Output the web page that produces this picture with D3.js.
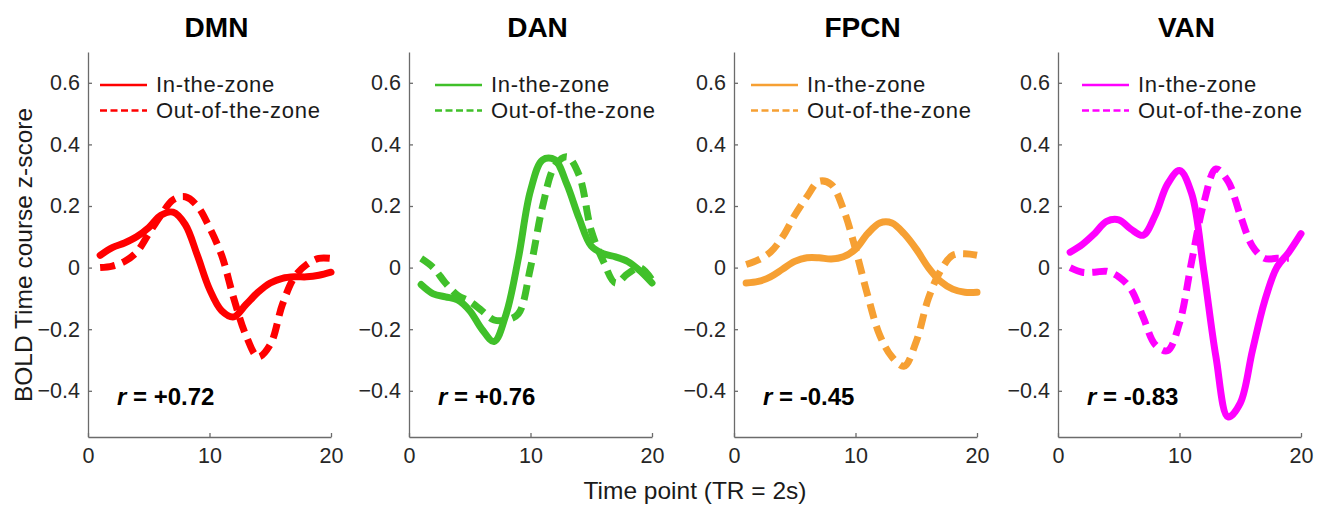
<!DOCTYPE html>
<html>
<head>
<meta charset="utf-8">
<script src="https://cdn.jsdelivr.net/npm/d3@7"></script>
<style>
  body { margin: 0; background: #fff; }
  text { font-family: "Liberation Sans", Arial, sans-serif; }
</style>
</head>
<body>
<svg id="chart" width="1321" height="505"></svg>
<script>
// networks shown, one panel each
const networks = ['DMN', 'DAN', 'FPCN', 'VAN'];
const colors = ['#ff0000', '#40c02a', '#f6a033', '#ff00ff'];
const rLabels = ['+0.72', '+0.76', '-0.45', '-0.83'];

const seriesNames = ['In-the-zone', 'Out-of-the-zone'];

// time points (TR)
const timeIn = d3.range(1, 21);

// z-scores
const dmnIn  = [0.04, 0.065, 0.08, 0.10, 0.13, 0.17, 0.18, 0.14, 0.04, -0.07, -0.14, -0.16, -0.12, -0.08, -0.05, -0.035, -0.03, -0.03, -0.025, -0.015];
const dmnOut = [0.0, 0.005, 0.02, 0.05, 0.11, 0.17, 0.22, 0.23, 0.20, 0.13, 0.04, -0.10, -0.22, -0.29, -0.25, -0.12, -0.03, 0.01, 0.03, 0.03];

const danIn  = [-0.055, -0.085, -0.095, -0.105, -0.14, -0.20, -0.24, -0.15, 0.03, 0.25, 0.35, 0.35, 0.27, 0.16, 0.07, 0.045, 0.035, 0.02, -0.01, -0.05];
const danOut = [0.03, 0.0, -0.05, -0.09, -0.11, -0.14, -0.17, -0.17, -0.15, 0.0, 0.20, 0.33, 0.36, 0.30, 0.12, 0.02, -0.05, -0.02, 0.0, -0.04];

const fpcnIn  = [-0.05, -0.045, -0.03, -0.005, 0.02, 0.032, 0.032, 0.028, 0.035, 0.06, 0.11, 0.145, 0.145, 0.11, 0.06, 0.0, -0.045, -0.07, -0.08, -0.08];
const fpcnOut = [0.01, 0.025, 0.05, 0.10, 0.17, 0.23, 0.28, 0.27, 0.19, 0.06, -0.09, -0.22, -0.29, -0.32, -0.24, -0.10, -0.01, 0.04, 0.045, 0.04];

const vanIn  = [0.05, 0.075, 0.11, 0.15, 0.155, 0.125, 0.105, 0.17, 0.27, 0.315, 0.24, -0.01, -0.29, -0.485, -0.44, -0.27, -0.11, 0.0, 0.05, 0.11];
const vanOut = [0.0, -0.015, -0.015, -0.012, -0.03, -0.07, -0.16, -0.25, -0.27, -0.18, 0.02, 0.21, 0.32, 0.28, 0.17, 0.07, 0.03, 0.03, 0.03];

const inData = [dmnIn, danIn, fpcnIn, vanIn];
const outData = [dmnOut, danOut, fpcnOut, vanOut];

const xTicks = [0, 10, 20];
const yTicks = [-0.4, -0.2, 0, 0.2, 0.4, 0.6];

// layout
const panelLeft = [88, 409, 734, 1058];
const panelW = 243;
const plotTop = 52, plotBottom = 437;
const legendOff = [12, 26, 17, 24];

const svg = d3.select('#chart');

const y = d3.scaleLinear().domain([-0.55, 0.7]).range([plotBottom, plotTop]);

networks.forEach(function(name, i) {
  const x = d3.scaleLinear().domain([0, 20]).range([panelLeft[i], panelLeft[i] + panelW]);
  const g = svg.append('g');

  // axes (matlab style, ticks inside)
  const xAxis = g.append('g')
    .attr('transform', 'translate(0,' + plotBottom + ')')
    .call(d3.axisBottom(x).tickValues(xTicks).tickSizeInner(-4).tickSizeOuter(0).tickPadding(10).tickFormat(d3.format('d')));
  const yAxis = g.append('g')
    .attr('transform', 'translate(' + panelLeft[i] + ',0)')
    .call(d3.axisLeft(y).tickValues(yTicks).tickSizeInner(-4).tickSizeOuter(0).tickPadding(8)
      .tickFormat(function(d) { return d === 0 ? '0' : d3.format('.1f')(d); }));
  [xAxis, yAxis].forEach(function(a) {
    a.select('.domain').attr('stroke', '#6b6b6b').attr('stroke-width', 1.3);
    a.selectAll('.tick line').attr('stroke', '#6b6b6b').attr('stroke-width', 1.3);
    a.selectAll('.tick text').attr('fill', '#262626').style('font-size', '21.5px')
      .style('font-family', '"Liberation Sans", Arial, sans-serif');
  });
  xAxis.selectAll('.tick text').attr('dy', '0.75em');

  const line = d3.line()
    .x(function(d, j) { return x(timeIn[j]); })
    .y(function(d) { return y(d); })
    .curve(d3.curveCatmullRom.alpha(0.5));

  // out-of-the-zone (dashed) under, in-the-zone (solid) on top
  g.append('path')
    .attr('d', line(outData[i]))
    .attr('fill', 'none')
    .attr('stroke', colors[i])
    .attr('stroke-width', 7)
    .attr('stroke-dasharray', '15,8');
  g.append('path')
    .attr('d', line(inData[i]))
    .attr('fill', 'none')
    .attr('stroke', colors[i])
    .attr('stroke-width', 7)
    .attr('stroke-linecap', 'round')
    .attr('stroke-linejoin', 'round');

  // title
  g.append('text')
    .attr('x', panelLeft[i] + panelW / 2 + 7)
    .attr('y', 37)
    .attr('text-anchor', 'middle')
    .style('font-size', '28px')
    .style('font-weight', 'bold')
    .text(name);

  // legend
  const lx = panelLeft[i] + legendOff[i];
  seriesNames.forEach(function(s, k) {
    const ly = 85 + k * 25.5;
    g.append('line')
      .attr('x1', lx).attr('x2', lx + 47)
      .attr('y1', ly).attr('y2', ly)
      .attr('stroke', colors[i])
      .attr('stroke-width', 2.5)
      .attr('stroke-dasharray', k === 1 ? '7,3.5' : null);
    g.append('text')
      .attr('x', lx + 56)
      .attr('y', ly + 7)
      .attr('fill', '#1a1a1a')
      .style('font-size', '22px')
      .style('letter-spacing', '0.7px')
      .text(s);
  });

  // correlation label
  const rt = g.append('text')
    .attr('x', panelLeft[i] + 29)
    .attr('y', 405)
    .style('font-size', '24px')
    .style('font-weight', 'bold');
  rt.append('tspan').style('font-style', 'italic').text('r');
  rt.append('tspan').text(' = ' + rLabels[i]);
});

// shared labels
svg.append('text')
  .attr('transform', 'translate(32,255) rotate(-90)')
  .attr('text-anchor', 'middle')
  .attr('fill', '#1a1a1a')
  .style('font-size', '24.5px')
  .text('BOLD Time course z-score');

svg.append('text')
  .attr('x', 695)
  .attr('y', 499)
  .attr('text-anchor', 'middle')
  .attr('fill', '#1a1a1a')
  .style('font-size', '24.5px')
  .text('Time point (TR = 2s)');
</script>
</body>
</html>
